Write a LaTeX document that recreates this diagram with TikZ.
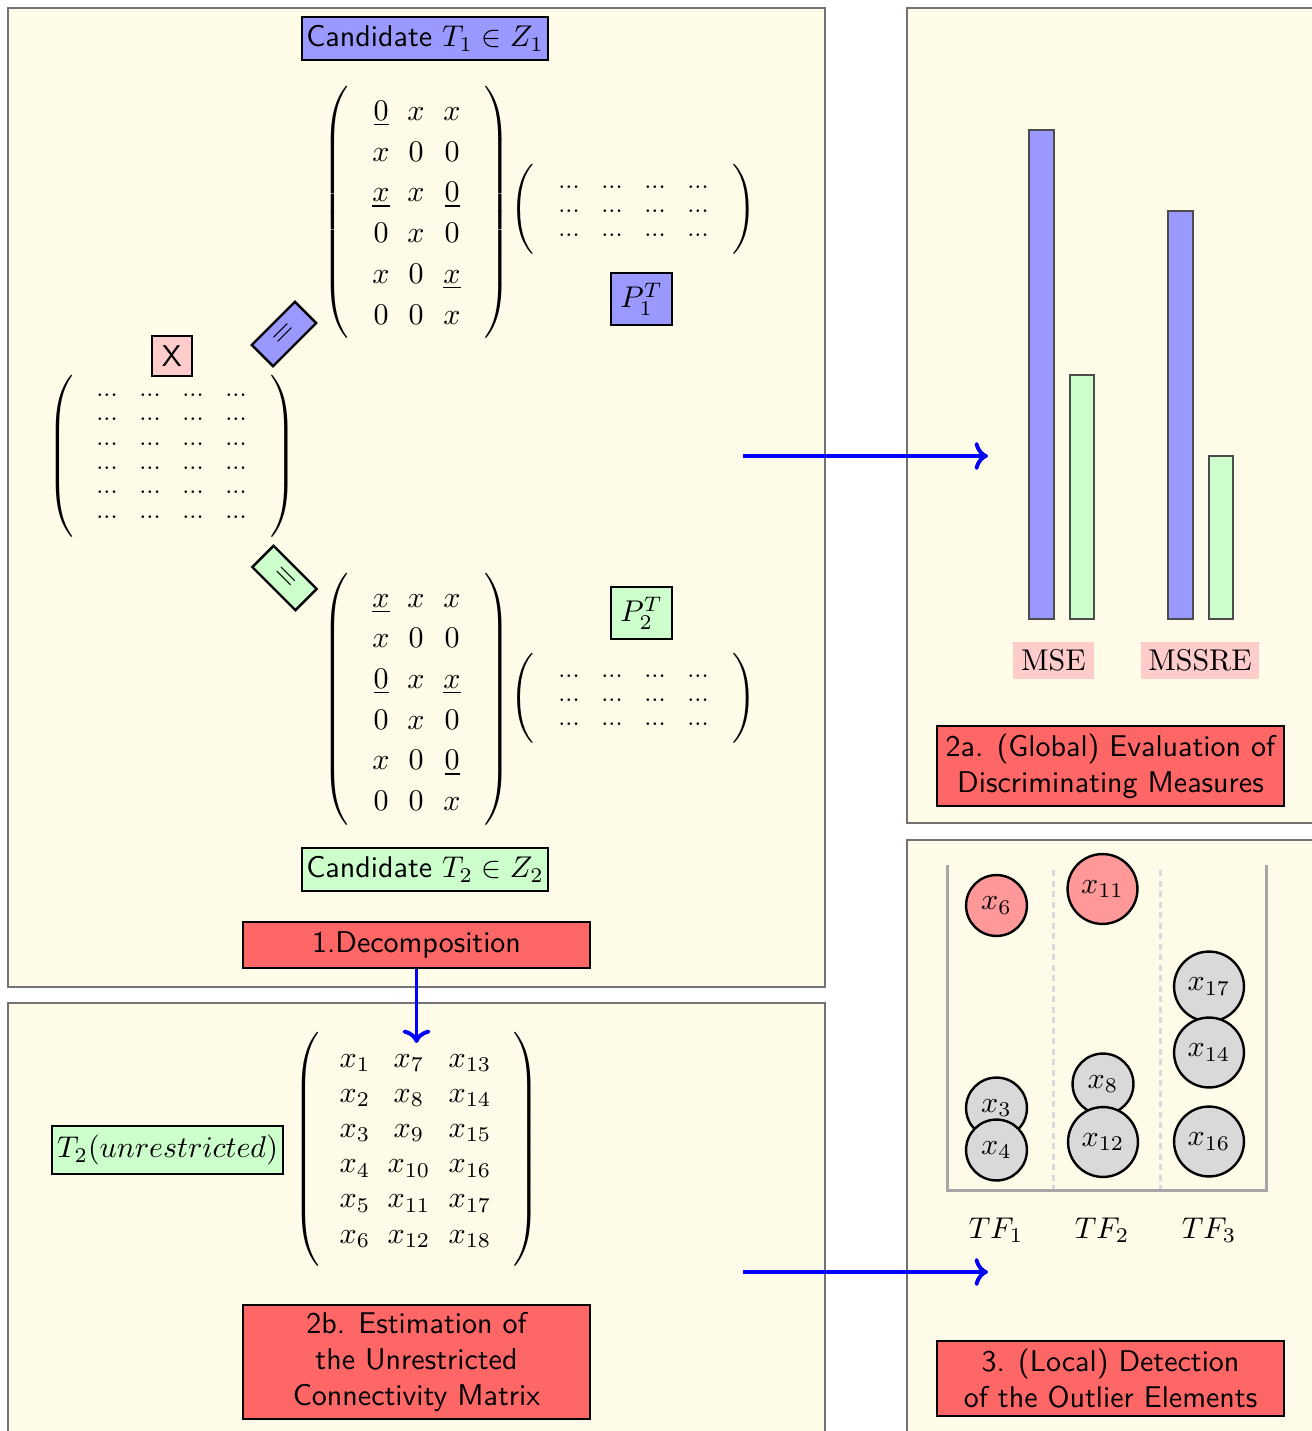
\documentclass[tikz,border=0pt]{standalone}
\usepackage{amsmath}
\usetikzlibrary{matrix,arrows.meta}
\definecolor{cream}{RGB}{254,251,232}
\tikzset{
  panel/.style={fill=cream,draw=black!55,line width=0.6pt},
  cbox/.style={draw=black,line width=0.8pt,inner sep=0pt,font=\sffamily},
  bluebox/.style={cbox,fill=blue!40},
  greenbox/.style={cbox,fill=green!20},
  redbox/.style={cbox,fill=red!60,align=center},
  eqbox/.style={draw=black,line width=0.8pt,inner sep=0pt,minimum width=20.3pt,minimum height=10pt},
  ent/.style={inner sep=0pt,anchor=base},
  dotent/.style={inner sep=0pt,font=\footnotesize},
  delim/.style={draw=none,inner sep=0pt,left delimiter=(,right delimiter=)},
  flow/.style={draw=blue,line width=1.3pt,->},
  barstyle/.style={draw=black!70,line width=0.5pt},
  elem/.style={circle,draw=black,line width=0.8pt,inner sep=0pt,minimum size=20.3pt,fill=black!15},
  bigelem/.style={elem,minimum size=23.3pt},
  outl/.style={fill=red!40},
  measure/.style={fill=red!20,inner sep=0pt},
}
\begin{document}
\begin{tikzpicture}[x=0.33333pt,y=-0.33333pt]
\clip (0,0) rectangle (1312,1431);
\fill[white] (0,0) rectangle (1312,1431);
% panels
\draw[panel] (8,8) rectangle (825,987);
\fill[cream] (8,1003) rectangle (825,1440);
\draw[draw=black!55,line width=0.6pt] (8,1440) -- (8,1003) -- (825,1003) -- (825,1440);
\draw[panel] (907,8) rectangle (1330,823);
\draw[panel] (907,840) rectangle (1330,1440);

% ---------- panel 1 ----------
\node[bluebox,minimum width=82pt,minimum height=14.3pt] (c1) at (425,38.5) {Candidate $T_1 \in Z_1$};
\node[delim,minimum width=42.3pt,minimum height=88.5pt] (T1m) at (416.5,212) {};
\foreach \a/\b/\c [count=\r] in {{\underline{0}}/x/x, x/0/0, {\underline{x}}/x/{\underline{0}}, 0/x/0, x/0/{\underline{x}}, 0/0/x}{
  \node[ent] (ta-\r-1) at (381,{120.5+40.7*(\r-1)}) {$\a$};
  \node[ent] (ta-\r-2) at (416,{120.5+40.7*(\r-1)}) {$\b$};
  \node[ent] (ta-\r-3) at (452,{120.5+40.7*(\r-1)}) {$\c$};
}
\node[delim,minimum width=63.3pt,minimum height=28.3pt] (P1m) at (633,211) {};
\foreach \r in {1,2,3}{
  \foreach \cx [count=\c] in {569,612,655,698}{
    \node[dotent] (pa-\r-\c) at (\cx,{187+24*(\r-1)}) {...};
  }
}
\node[bluebox,minimum width=20.3pt,minimum height=17.3pt] (p1) at (641.5,299) {$P_1^T$};
\node[eqbox,fill=blue!40,rotate=45] (eq1) at (284,334) {$=$};
\node[eqbox,fill=green!20,rotate=-45] (eq2) at (284.5,578) {$=$};
\node[cbox,fill=red!20,minimum width=13.3pt,minimum height=13.3pt] (xl) at (172,356) {X};
\node[delim,minimum width=63pt,minimum height=54pt] (Xm) at (172,456) {};
\foreach \r in {1,...,6}{
  \foreach \cx [count=\c] in {107,150,193,236}{
    \node[dotent] (xa-\r-\c) at (\cx,{395+24.4*(\r-1)}) {...};
  }
}
\node[delim,minimum width=42.3pt,minimum height=88.5pt] (T2m) at (416.5,699.5) {};
\foreach \a/\b/\c [count=\r] in {{\underline{x}}/x/x, x/0/0, {\underline{0}}/x/{\underline{x}}, 0/x/0, x/0/{\underline{0}}, 0/0/x}{
  \node[ent] (tb-\r-1) at (381,{607+40.7*(\r-1)}) {$\a$};
  \node[ent] (tb-\r-2) at (416,{607+40.7*(\r-1)}) {$\b$};
  \node[ent] (tb-\r-3) at (452,{607+40.7*(\r-1)}) {$\c$};
}
\node[greenbox,minimum width=20.3pt,minimum height=17.3pt] (p2) at (641.5,613) {$P_2^T$};
\node[delim,minimum width=63.3pt,minimum height=28.3pt] (P2m) at (633,700) {};
\foreach \r in {1,2,3}{
  \foreach \cx [count=\c] in {569,612,655,698}{
    \node[dotent] (pb-\r-\c) at (\cx,{676+24*(\r-1)}) {...};
  }
}
\node[greenbox,minimum width=82pt,minimum height=14.3pt] (c2) at (425,869.5) {Candidate $T_2 \in Z_2$};
\node[redbox,minimum width=115.7pt,minimum height=15.3pt] (dec) at (416.5,945) {1.Decomposition};

% ---------- panel 2b ----------
\node[greenbox,minimum width=77pt,minimum height=16pt] (t2u) at (167.5,1150) {$T_2(unrestricted)$};
\node[delim,minimum width=61.7pt,minimum height=78pt] (Bm) at (416.5,1149.5) {};
\foreach \r in {1,...,6}{
  \pgfmathtruncatemacro{\ia}{\r}
  \pgfmathtruncatemacro{\ib}{\r+6}
  \pgfmathtruncatemacro{\ic}{\r+12}
  \node[ent] (bm-\r-1) at (355,{1067+35.2*(\r-1)}) {$x_{\ia}$};
  \node[ent] (bm-\r-2) at (409,{1067+35.2*(\r-1)}) {$x_{\ib}$};
  \node[ent] (bm-\r-3) at (470,{1067+35.2*(\r-1)}) {$x_{\ic}$};
}
\node[redbox,minimum width=115.7pt,minimum height=38pt] (est) at (416.5,1362) {2b. Estimation of\\the Unrestricted\\Connectivity Matrix};

% ---------- panel 2a ----------
\draw[barstyle,fill=blue!40] (1029,130) rectangle (1054,619);
\draw[barstyle,fill=green!20] (1070,375) rectangle (1094,619);
\draw[barstyle,fill=blue!40] (1168,211) rectangle (1193,619);
\draw[barstyle,fill=green!20] (1209,456) rectangle (1233,619);
\node[measure,minimum width=27pt,minimum height=12.3pt] (mse) at (1053.5,660.5) {MSE};
\node[measure,minimum width=39.3pt,minimum height=12.3pt] (mssre) at (1200,660.5) {MSSRE};
\node[redbox,minimum width=115.7pt,minimum height=26.7pt] (glob) at (1110.5,766) {2a. (Global) Evaluation of\\Discriminating Measures};

% ---------- panel 3 ----------
\draw[black!15,line width=1pt,dash pattern=on 2pt off 1.5pt] (1053,870) -- (1053,1190);
\draw[black!15,line width=1pt,dash pattern=on 2pt off 1.5pt] (1160,870) -- (1160,1190);
\draw[black!35,line width=1pt] (947,865) -- (947,1190) -- (1266,1190) -- (1266,865);
\node[elem,outl] (e6) at (996.5,905.5) {$x_6$};
\node[bigelem,outl] (e11) at (1102.5,889) {$x_{11}$};
\node[bigelem] (e17) at (1209,986.5) {$x_{17}$};
\node[bigelem] (e14) at (1209,1052.5) {$x_{14}$};
\node[elem] (e3) at (996.5,1108) {$x_3$};
\node[elem] (e4) at (996.5,1150) {$x_4$};
\node[elem] (e8) at (1103,1084) {$x_8$};
\node[bigelem] (e12) at (1103,1142) {$x_{12}$};
\node[bigelem] (e16) at (1209,1141.5) {$x_{16}$};
\node (tf1) at (996,1230) {$TF_1$};
\node (tf2) at (1102,1230) {$TF_2$};
\node (tf3) at (1209,1230) {$TF_3$};
\node[redbox,minimum width=115.7pt,minimum height=25pt] (loc) at (1110.5,1378.5) {3. (Local) Detection\\of the Outlier Elements};

% ---------- arrows ----------
\coordinate (a1s) at (743,456);
\coordinate (a1e) at (988,456);
\coordinate (a2s) at (743,1272);
\coordinate (a2e) at (988,1272);
\coordinate (a3e) at (416.5,1043);
\draw[flow] (a1s) -- (a1e);
\draw[flow] (a2s) -- (a2e);
\draw[flow] (dec.south) -- (a3e);
\end{tikzpicture}
\end{document}
